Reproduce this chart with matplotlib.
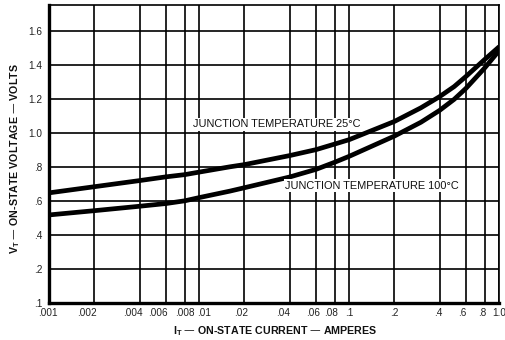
import matplotlib
matplotlib.use("Agg")
import matplotlib.pyplot as plt
import matplotlib.transforms as mtransforms

# Data
current = [0.001, 0.002, 0.004, 0.006, 0.008, 0.01, 0.016, 0.02, 0.04, 0.06, 0.08, 0.1,
           0.2, 0.3, 0.4, 0.5, 0.6, 0.8, 1.0]
v_25c = [0.650, 0.686, 0.722, 0.744, 0.757, 0.772, 0.803, 0.816, 0.869, 0.904, 0.937, 0.963,
         1.070, 1.150, 1.216, 1.275, 1.335, 1.435, 1.510]
v_100c = [0.520, 0.545, 0.571, 0.587, 0.603, 0.622, 0.660, 0.680, 0.743, 0.788, 0.830, 0.865,
          0.984, 1.065, 1.135, 1.200, 1.265, 1.385, 1.488]

x_ticks = [0.001, 0.002, 0.004, 0.006, 0.008, 0.01, 0.02, 0.04, 0.06, 0.08, 0.1, 0.2, 0.4, 0.6, 0.8, 1.0]
x_tick_labels = [".001", ".002", ".004", ".006", ".008", ".01", ".02", ".04", ".06", ".08", ".1", ".2", ".4", ".6", ".8", "1.0"]
y_ticks = [0.0, 0.2, 0.4, 0.6, 0.8, 1.0, 1.2, 1.4, 1.6]
y_tick_labels = [".1", ".2", ".4", ".6", ".8", "1.0", "1.2", "1.4", "1.6"]

# horizontal placement tweaks of the x tick labels (pixels), as typeset in the reference
x_label_shift_px = [-1, -8, -7, -7.8, 0, 4.4, -3, -6.6, -3, -3.3, 0, 0, -1.6, -4, -2.5, 0]

plt.rcParams['font.family'] = ['Liberation Sans', 'DejaVu Sans']

fig = plt.figure(figsize=(5.06, 3.40), dpi=100)
ax = fig.add_axes([49.3/506, 1-303.3/340, 450/506, 298.3/340])

ax.set_xscale('log')
ax.set_xlim(0.001, 1.0)
ax.set_ylim(0, 1.755)

ax.set_xticks(x_ticks)
ax.set_xticklabels(x_tick_labels)
ax.xaxis.set_minor_locator(matplotlib.ticker.NullLocator())
ax.set_yticks(y_ticks)
ax.set_yticklabels(y_tick_labels)
ax.tick_params(axis='both', length=0, labelsize=7.2, colors='#222222')
ax.tick_params(axis='x', pad=3.5)
ax.tick_params(axis='y', pad=5)

for lbl, dx in zip(ax.get_xticklabels(), x_label_shift_px):
    if dx:
        lbl.set_transform(lbl.get_transform() + mtransforms.ScaledTranslation(dx/100, 0, fig.dpi_scale_trans))

ax.grid(True, which='major', color='black', linewidth=1.2)
ax.set_axisbelow(True)

for s in ['top', 'right']:
    ax.spines[s].set_linewidth(1.2)
for s in ['left', 'bottom']:
    ax.spines[s].set_linewidth(2.4)

ax.plot(current, v_25c, color='black', linewidth=3.4, solid_joinstyle='round',
        solid_capstyle='butt', zorder=3)
ax.plot(current, v_100c, color='black', linewidth=3.4, solid_joinstyle='round',
        solid_capstyle='butt', zorder=3)

ax.text(0.00910, 1.053, "JUNCTION TEMPERATURE 25\u00b0C", fontsize=7.9, va='center', ha='left',
        color='#111111', zorder=4,
        bbox=dict(facecolor='white', edgecolor='none', pad=1.0))
ax.text(0.0373, 0.692, "JUNCTION TEMPERATURE 100\u00b0C", fontsize=7.9, va='center', ha='left',
        color='#111111', zorder=4,
        bbox=dict(facecolor='white', edgecolor='none', pad=1.0))

fig.text(275.5/506, 1-331.5/340, "I$_\\mathregular{T}$ \u2014 ON-STATE CURRENT \u2014 AMPERES",
         fontsize=7.7, fontweight='bold', ha='center', va='center', color='#111111')
fig.text(15/506, 1-159/340, "V$_\\mathregular{T}$ \u2014 ON-STATE VOLTAGE \u2014 VOLTS",
         fontsize=7.7, fontweight='bold', ha='center', va='center', rotation=90, color='#111111')

fig.savefig("out.png", dpi=100)
